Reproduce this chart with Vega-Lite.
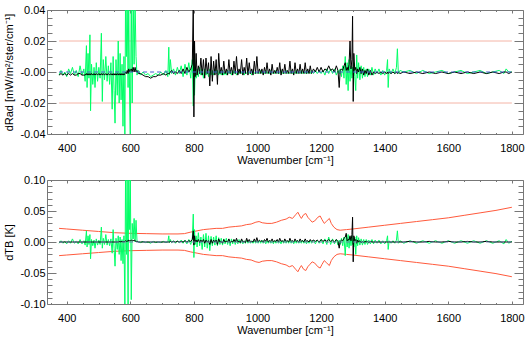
{
  "$schema": "https://vega.github.io/schema/vega-lite/v6.json",
  "padding": {"left": 3, "right": 2, "top": 3, "bottom": 2},
  "spacing": 7,
  "config": {
    "view": {"stroke": "#777", "strokeWidth": 1},
    "font": "Liberation Sans",
    "axis": {"domain": false, "grid": false, "tickColor": "#777", "labelColor": "#000", "titleColor": "#000", "labelFontSize": 11, "titleFontSize": 11, "titleFontWeight": "normal", "labelFlush": false, "labelOverlap": false, "labelBound": false, "labelFont": "Liberation Sans", "titleFont": "Liberation Sans"}
  },
  "datasets": {
    "top": [
      {"x":376,"g":-0.002,"k":-0.002},{"x":382,"g":0.001,"k":-0.001},{"x":388,"g":-0.002,"k":-0.002},{"x":394,"g":0.0,"k":-0.001},{"x":400,"g":-0.003,"k":-0.002},{"x":406,"g":0.002,"k":-0.001},{"x":412,"g":-0.001,"k":-0.002},{"x":418,"g":0.003,"k":-0.001},{"x":424,"g":-0.002,"k":-0.002},{"x":430,"g":0.001,"k":-0.002},{"x":436,"g":-0.003,"k":-0.001},{"x":442,"g":0.004,"k":-0.001},{"x":448,"g":-0.002,"k":-0.002},{"x":454,"g":0.002,"k":-0.002},{"x":458,"g":-0.006,"k":-0.002},{"x":462,"g":0.017,"k":-0.001},{"x":464,"g":-0.010,"k":-0.002},{"x":467,"g":0.012,"k":-0.001},{"x":470,"g":-0.004,"k":-0.002},{"x":473,"g":0.024,"k":-0.001},{"x":475,"g":-0.025,"k":-0.002},{"x":478,"g":0.005,"k":-0.001},{"x":482,"g":-0.008,"k":-0.002},{"x":486,"g":0.003,"k":-0.001},{"x":489,"g":-0.010,"k":-0.002},{"x":493,"g":0.006,"k":-0.001},{"x":497,"g":-0.006,"k":-0.002},{"x":501,"g":0.003,"k":-0.001},{"x":505,"g":-0.004,"k":-0.002},{"x":509,"g":0.025,"k":-0.001},{"x":512,"g":-0.019,"k":-0.002},{"x":515,"g":0.008,"k":-0.001},{"x":519,"g":-0.005,"k":-0.002},{"x":523,"g":0.010,"k":-0.001},{"x":527,"g":-0.006,"k":-0.002},{"x":531,"g":0.004,"k":-0.001},{"x":535,"g":-0.008,"k":-0.002},{"x":539,"g":0.006,"k":-0.001},{"x":543,"g":-0.024,"k":-0.002},{"x":546,"g":0.010,"k":-0.001},{"x":549,"g":-0.012,"k":-0.002},{"x":552,"g":-0.033,"k":-0.001},{"x":555,"g":0.008,"k":-0.002},{"x":559,"g":-0.015,"k":-0.001},{"x":562,"g":0.020,"k":-0.002},{"x":565,"g":-0.020,"k":-0.001},{"x":568,"g":0.012,"k":-0.002},{"x":571,"g":-0.018,"k":-0.001},{"x":574,"g":0.005,"k":-0.002},{"x":577,"g":-0.035,"k":-0.001},{"x":580,"g":0.010,"k":-0.002},{"x":583,"g":-0.045,"k":-0.001},{"x":585,"g":0.050,"k":0.0},{"x":588,"g":0.010,"k":-0.001},{"x":590,"g":0.050,"k":0.001},{"x":593,"g":-0.010,"k":-0.001},{"x":595,"g":0.045,"k":0.002},{"x":598,"g":-0.020,"k":0.0},{"x":600,"g":-0.045,"k":0.001},{"x":603,"g":0.050,"k":0.002},{"x":606,"g":-0.020,"k":0.0},{"x":609,"g":0.050,"k":0.003},{"x":612,"g":0.005,"k":0.0},{"x":615,"g":0.045,"k":0.003},{"x":618,"g":0.010,"k":0.0},{"x":621,"g":-0.002,"k":0.001},{"x":626,"g":0.001,"k":-0.001},
      {"x":632,"g":-0.002,"k":-0.001},{"x":640,"g":0.0,"k":-0.002},{"x":648,"g":-0.002,"k":-0.003},{"x":656,"g":-0.001,"k":-0.003},{"x":664,"g":-0.003,"k":-0.004},{"x":672,"g":-0.002,"k":-0.003},{"x":680,"g":-0.001,"k":-0.003},{"x":688,"g":-0.002,"k":-0.002},{"x":696,"g":0.0,"k":-0.002},{"x":704,"g":-0.002,"k":-0.001},{"x":712,"g":0.001,"k":-0.002},{"x":718,"g":-0.003,"k":-0.001},{"x":721,"g":0.016,"k":-0.001},{"x":723,"g":-0.002,"k":-0.001},{"x":726,"g":0.008,"k":0.0},{"x":730,"g":-0.001,"k":0.001},{"x":736,"g":0.002,"k":-0.001},{"x":742,"g":-0.002,"k":0.0},{"x":748,"g":0.003,"k":-0.001},{"x":754,"g":-0.001,"k":0.001},{"x":760,"g":0.004,"k":-0.001},{"x":766,"g":-0.003,"k":0.002},{"x":772,"g":0.005,"k":-0.001},{"x":778,"g":-0.002,"k":0.003},{"x":784,"g":0.006,"k":0.0},{"x":790,"g":-0.004,"k":0.002},{"x":795,"g":0.008,"k":0.005},{"x":798,"g":-0.022,"k":0.045},{"x":800,"g":0.010,"k":-0.029},{"x":802,"g":-0.015,"k":0.020},{"x":804,"g":0.003,"k":-0.003},{"x":807,"g":-0.004,"k":0.012},{"x":810,"g":0.002,"k":-0.002},{"x":814,"g":-0.003,"k":0.004},{"x":818,"g":0.003,"k":-0.001},{"x":822,"g":-0.002,"k":0.009},{"x":826,"g":0.002,"k":-0.002},{"x":830,"g":-0.004,"k":0.008},{"x":834,"g":0.002,"k":-0.004},{"x":838,"g":-0.002,"k":0.009},{"x":842,"g":0.001,"k":-0.001},{"x":846,"g":-0.003,"k":0.006},{"x":850,"g":0.002,"k":-0.009},{"x":854,"g":-0.002,"k":0.010},{"x":858,"g":0.001,"k":-0.006},{"x":862,"g":-0.002,"k":0.007},{"x":866,"g":0.002,"k":-0.002},{"x":870,"g":-0.001,"k":0.008},{"x":874,"g":0.001,"k":-0.008},{"x":878,"g":-0.002,"k":0.012},{"x":882,"g":0.001,"k":-0.001},{"x":886,"g":-0.002,"k":0.003},{"x":890,"g":0.001,"k":-0.002},{"x":894,"g":-0.002,"k":0.007},{"x":898,"g":0.0,"k":-0.001},{"x":902,"g":-0.002,"k":0.002},{"x":906,"g":0.001,"k":-0.002},{"x":910,"g":-0.001,"k":0.008},{"x":914,"g":0.001,"k":-0.001},{"x":918,"g":-0.002,"k":0.003},{"x":922,"g":0.001,"k":-0.002},{"x":926,"g":-0.001,"k":0.007},{"x":930,"g":0.001,"k":-0.001},{"x":934,"g":-0.002,"k":0.010},{"x":938,"g":0.0,"k":-0.002},{"x":942,"g":-0.001,"k":0.002},{"x":946,"g":0.001,"k":-0.001},{"x":950,"g":-0.001,"k":0.008},{"x":954,"g":0.001,"k":-0.002},{"x":958,"g":-0.002,"k":0.003},{"x":962,"g":0.0,"k":-0.001},{"x":966,"g":-0.001,"k":0.009},{"x":970,"g":0.001,"k":-0.002},{"x":974,"g":-0.001,"k":0.006},{"x":978,"g":0.0,"k":-0.001},{"x":982,"g":-0.002,"k":0.002},{"x":986,"g":0.001,"k":-0.002},{"x":990,"g":-0.001,"k":0.007},{"x":994,"g":0.0,"k":-0.001},{"x":998,"g":-0.001,"k":0.010},{"x":1002,"g":0.0,"k":-0.001},
      {"x":1006,"g":-0.001,"k":0.002},{"x":1010,"g":0.001,"k":-0.001},{"x":1014,"g":-0.001,"k":0.002},{"x":1018,"g":0.0,"k":-0.002},{"x":1022,"g":-0.001,"k":0.003},{"x":1026,"g":0.001,"k":-0.001},{"x":1030,"g":-0.001,"k":0.006},{"x":1034,"g":0.0,"k":-0.001},{"x":1038,"g":-0.001,"k":0.002},{"x":1042,"g":0.001,"k":-0.002},{"x":1046,"g":-0.001,"k":0.005},{"x":1050,"g":0.0,"k":-0.001},{"x":1054,"g":-0.001,"k":0.001},{"x":1058,"g":0.001,"k":-0.001},{"x":1062,"g":-0.001,"k":0.003},{"x":1066,"g":0.0,"k":-0.001},{"x":1070,"g":-0.001,"k":0.006},{"x":1074,"g":0.001,"k":-0.002},{"x":1078,"g":-0.001,"k":0.002},{"x":1082,"g":0.0,"k":-0.001},{"x":1086,"g":-0.001,"k":0.005},{"x":1090,"g":0.001,"k":-0.001},{"x":1094,"g":-0.001,"k":0.001},{"x":1098,"g":0.0,"k":-0.001},{"x":1102,"g":-0.001,"k":0.007},{"x":1106,"g":0.001,"k":-0.001},{"x":1110,"g":-0.001,"k":0.002},{"x":1114,"g":0.0,"k":-0.002},{"x":1118,"g":-0.001,"k":0.006},{"x":1122,"g":0.001,"k":-0.001},{"x":1126,"g":-0.001,"k":0.002},{"x":1130,"g":0.0,"k":-0.001},{"x":1134,"g":-0.001,"k":0.005},{"x":1138,"g":0.001,"k":-0.001},{"x":1142,"g":-0.001,"k":0.002},{"x":1146,"g":0.0,"k":-0.001},{"x":1150,"g":-0.001,"k":0.006},{"x":1154,"g":0.001,"k":-0.001},{"x":1158,"g":-0.001,"k":0.002},{"x":1162,"g":0.0,"k":-0.001},{"x":1166,"g":-0.001,"k":0.004},{"x":1170,"g":0.001,"k":-0.001},{"x":1176,"g":-0.001,"k":0.002},{"x":1182,"g":0.001,"k":0.0},{"x":1188,"g":-0.001,"k":0.003},{"x":1194,"g":0.001,"k":0.0},{"x":1200,"g":-0.001,"k":0.003},{"x":1206,"g":0.001,"k":0.0},{"x":1212,"g":-0.002,"k":0.002},{"x":1218,"g":0.002,"k":0.001},{"x":1224,"g":-0.001,"k":0.004},{"x":1230,"g":0.002,"k":0.001},{"x":1236,"g":-0.001,"k":0.002},{"x":1242,"g":0.002,"k":0.0},{"x":1248,"g":-0.002,"k":0.004},{"x":1253,"g":0.001,"k":0.001},{"x":1257,"g":-0.001,"k":-0.010},{"x":1260,"g":0.002,"k":0.001},{"x":1264,"g":-0.003,"k":0.002},{"x":1268,"g":0.004,"k":0.001},{"x":1272,"g":-0.004,"k":0.004},{"x":1276,"g":0.010,"k":0.006},{"x":1279,"g":-0.008,"k":0.001},{"x":1282,"g":0.006,"k":0.003},{"x":1285,"g":-0.012,"k":0.001},{"x":1288,"g":0.008,"k":0.005},{"x":1291,"g":-0.006,"k":0.020},{"x":1294,"g":0.004,"k":0.002},{"x":1297,"g":-0.004,"k":0.008},{"x":1299,"g":0.003,"k":0.036},{"x":1301,"g":-0.002,"k":-0.019},{"x":1303,"g":0.006,"k":0.012},{"x":1306,"g":-0.003,"k":0.001},{"x":1309,"g":-0.012,"k":0.003},{"x":1312,"g":0.011,"k":-0.001},{"x":1315,"g":-0.004,"k":0.002},{"x":1318,"g":0.006,"k":0.0},{"x":1322,"g":-0.005,"k":0.003},{"x":1326,"g":0.004,"k":-0.001},{"x":1330,"g":-0.004,"k":0.002},{"x":1334,"g":0.003,"k":-0.002},{"x":1338,"g":-0.003,"k":0.001},{"x":1342,"g":0.002,"k":-0.001},{"x":1346,"g":-0.003,"k":0.002},{"x":1350,"g":0.002,"k":-0.002},{"x":1355,"g":-0.002,"k":0.001},{"x":1360,"g":0.003,"k":-0.002},{"x":1365,"g":-0.002,"k":0.0},{"x":1370,"g":0.002,"k":-0.001},{"x":1376,"g":-0.001,"k":0.0},{"x":1382,"g":0.002,"k":-0.001},{"x":1388,"g":-0.002,"k":0.0},{"x":1394,"g":0.001,"k":-0.001},{"x":1400,"g":-0.002,"k":0.0},{"x":1406,"g":0.001,"k":-0.001},{"x":1409,"g":0.008,"k":0.0},{"x":1411,"g":-0.010,"k":-0.001},{"x":1414,"g":0.002,"k":0.0},{"x":1420,"g":-0.001,"k":-0.001},{"x":1426,"g":0.002,"k":0.0},{"x":1432,"g":-0.001,"k":-0.001},{"x":1437,"g":0.003,"k":0.0},{"x":1440,"g":0.015,"k":-0.001},{"x":1443,"g":-0.001,"k":0.0},{"x":1448,"g":0.001,"k":-0.001},{"x":1460,"g":0.0,"k":0.0},{"x":1480,"g":0.001,"k":-0.001},{"x":1500,"g":-0.001,"k":0.0},{"x":1520,"g":0.001,"k":-0.001},{"x":1540,"g":-0.001,"k":0.0},{"x":1560,"g":0.0,"k":-0.001},{"x":1580,"g":0.001,"k":0.0},{"x":1600,"g":-0.001,"k":-0.001},{"x":1620,"g":0.0,"k":0.0},{"x":1640,"g":0.001,"k":-0.001},{"x":1660,"g":-0.001,"k":0.0},{"x":1680,"g":0.0,"k":-0.001},{"x":1700,"g":0.001,"k":0.0},{"x":1720,"g":-0.001,"k":-0.001},{"x":1740,"g":0.0,"k":0.0},{"x":1760,"g":0.001,"k":-0.001},{"x":1775,"g":-0.001,"k":0.0},{"x":1782,"g":0.002,"k":0.0},{"x":1790,"g":0.0,"k":-0.001},{"x":1800,"g":0.0,"k":0.0}
    ],
    "bot": [
      {"x":376,"g":-0.002,"k":0.0},{"x":382,"g":0.002,"k":0.0},{"x":388,"g":-0.002,"k":0.0},{"x":394,"g":0.001,"k":0.0},{"x":400,"g":-0.003,"k":0.0},{"x":406,"g":0.002,"k":0.0},{"x":412,"g":-0.002,"k":0.0},{"x":418,"g":0.005,"k":0.0},{"x":424,"g":-0.002,"k":0.0},{"x":430,"g":0.001,"k":0.0},{"x":436,"g":-0.003,"k":0.0},{"x":442,"g":0.004,"k":0.0},{"x":448,"g":-0.003,"k":0.0},{"x":454,"g":0.002,"k":0.0},{"x":458,"g":-0.005,"k":0.0},{"x":462,"g":0.018,"k":0.0},{"x":464,"g":-0.008,"k":0.0},{"x":467,"g":0.010,"k":0.0},{"x":470,"g":-0.004,"k":0.0},{"x":473,"g":0.012,"k":0.0},{"x":475,"g":-0.027,"k":0.0},{"x":478,"g":0.004,"k":0.0},{"x":482,"g":-0.006,"k":0.0},{"x":486,"g":0.003,"k":0.0},{"x":489,"g":-0.010,"k":0.0},{"x":493,"g":0.005,"k":0.0},{"x":497,"g":-0.005,"k":0.0},{"x":501,"g":0.003,"k":0.0},{"x":505,"g":-0.004,"k":0.0},{"x":509,"g":0.024,"k":0.0},{"x":512,"g":-0.010,"k":0.0},{"x":515,"g":0.006,"k":0.0},{"x":519,"g":-0.004,"k":0.0},{"x":523,"g":0.012,"k":0.0},{"x":527,"g":-0.005,"k":0.0},{"x":531,"g":0.004,"k":0.0},{"x":535,"g":-0.006,"k":0.0},{"x":539,"g":0.005,"k":0.0},{"x":543,"g":-0.018,"k":0.0},{"x":546,"g":0.020,"k":0.0},{"x":549,"g":-0.010,"k":0.0},{"x":552,"g":-0.039,"k":0.0},{"x":555,"g":0.006,"k":0.0},{"x":559,"g":-0.012,"k":0.0},{"x":562,"g":0.010,"k":0.0},{"x":565,"g":-0.020,"k":0.001},{"x":568,"g":0.008,"k":0.0},{"x":571,"g":-0.030,"k":0.001},{"x":574,"g":0.004,"k":0.0},{"x":577,"g":-0.035,"k":0.001},{"x":580,"g":0.010,"k":0.0},{"x":583,"g":-0.110,"k":0.001},{"x":585,"g":0.110,"k":0.002},{"x":588,"g":-0.020,"k":0.001},{"x":590,"g":0.110,"k":0.002},{"x":593,"g":-0.100,"k":0.001},{"x":595,"g":0.110,"k":0.003},{"x":598,"g":0.020,"k":0.002},{"x":600,"g":0.110,"k":0.002},{"x":603,"g":-0.093,"k":0.003},{"x":606,"g":0.030,"k":0.002},{"x":609,"g":0.005,"k":0.002},{"x":612,"g":0.038,"k":0.003},{"x":615,"g":0.0,"k":0.002},{"x":618,"g":0.035,"k":0.001},{"x":621,"g":0.002,"k":0.001},{"x":626,"g":0.0,"k":0.0},
      {"x":632,"g":-0.001,"k":0.0},{"x":640,"g":0.001,"k":0.0},{"x":648,"g":-0.001,"k":0.0},{"x":656,"g":0.0,"k":0.0},{"x":664,"g":-0.002,"k":0.0},{"x":672,"g":0.001,"k":0.0},{"x":680,"g":-0.001,"k":0.0},{"x":688,"g":0.0,"k":0.0},{"x":696,"g":-0.001,"k":0.0},{"x":704,"g":0.001,"k":0.0},{"x":712,"g":-0.001,"k":0.0},{"x":718,"g":0.0,"k":0.0},{"x":721,"g":0.010,"k":0.0},{"x":723,"g":-0.001,"k":0.0},{"x":726,"g":0.004,"k":0.001},{"x":730,"g":-0.001,"k":0.0},{"x":736,"g":0.002,"k":0.001},{"x":742,"g":-0.002,"k":0.0},{"x":748,"g":0.002,"k":0.001},{"x":754,"g":-0.001,"k":0.0},{"x":760,"g":0.003,"k":0.001},{"x":766,"g":-0.002,"k":0.0},{"x":772,"g":0.003,"k":0.002},{"x":778,"g":-0.003,"k":0.0},{"x":784,"g":0.004,"k":0.002},{"x":790,"g":-0.004,"k":0.001},{"x":795,"g":0.005,"k":0.004},{"x":798,"g":0.045,"k":0.018},{"x":800,"g":-0.025,"k":-0.005},{"x":802,"g":0.020,"k":0.010},{"x":804,"g":-0.004,"k":0.0},{"x":807,"g":0.010,"k":0.003},{"x":810,"g":-0.008,"k":0.0},{"x":814,"g":0.015,"k":0.004},{"x":818,"g":-0.006,"k":-0.001},{"x":822,"g":0.008,"k":0.003},{"x":826,"g":-0.012,"k":0.0},{"x":830,"g":0.012,"k":0.004},{"x":834,"g":-0.008,"k":-0.002},{"x":838,"g":0.014,"k":0.003},{"x":842,"g":-0.010,"k":0.0},{"x":846,"g":0.010,"k":0.002},{"x":850,"g":-0.014,"k":-0.004},{"x":854,"g":0.009,"k":0.004},{"x":858,"g":-0.006,"k":-0.002},{"x":862,"g":0.008,"k":0.003},{"x":866,"g":-0.005,"k":0.0},{"x":870,"g":0.010,"k":0.003},{"x":874,"g":-0.006,"k":-0.004},{"x":878,"g":0.007,"k":0.005},{"x":882,"g":-0.004,"k":0.0},{"x":886,"g":0.006,"k":0.001},{"x":890,"g":-0.005,"k":-0.002},{"x":894,"g":0.005,"k":0.004},{"x":898,"g":-0.003,"k":0.0},{"x":902,"g":0.006,"k":0.001},{"x":906,"g":-0.004,"k":0.0},{"x":910,"g":0.004,"k":0.005},{"x":914,"g":-0.006,"k":-0.001},{"x":918,"g":0.005,"k":0.001},{"x":922,"g":-0.003,"k":0.0},{"x":926,"g":0.004,"k":0.004},{"x":930,"g":-0.004,"k":0.0},{"x":934,"g":0.003,"k":0.006},{"x":938,"g":-0.003,"k":0.0},{"x":942,"g":0.004,"k":0.001},{"x":946,"g":-0.002,"k":-0.001},{"x":950,"g":0.003,"k":0.005},{"x":954,"g":-0.003,"k":0.0},{"x":958,"g":0.002,"k":0.001},{"x":962,"g":-0.002,"k":-0.001},{"x":966,"g":0.003,"k":0.006},{"x":970,"g":-0.002,"k":0.0},{"x":974,"g":0.002,"k":0.004},{"x":978,"g":-0.002,"k":0.0},{"x":982,"g":0.002,"k":0.001},{"x":986,"g":-0.002,"k":0.0},{"x":990,"g":0.002,"k":0.005},{"x":994,"g":-0.002,"k":0.0},{"x":998,"g":0.002,"k":0.007},{"x":1002,"g":-0.002,"k":0.0},
      {"x":1006,"g":0.002,"k":0.003},{"x":1010,"g":-0.002,"k":0.001},{"x":1014,"g":0.003,"k":0.002},{"x":1018,"g":-0.002,"k":0.0},{"x":1022,"g":0.002,"k":0.004},{"x":1026,"g":-0.003,"k":0.001},{"x":1030,"g":0.002,"k":0.006},{"x":1034,"g":-0.002,"k":0.0},{"x":1038,"g":0.003,"k":0.002},{"x":1042,"g":-0.002,"k":0.001},{"x":1046,"g":0.002,"k":0.005},{"x":1050,"g":-0.003,"k":0.0},{"x":1054,"g":0.002,"k":0.002},{"x":1058,"g":-0.002,"k":0.001},{"x":1062,"g":0.003,"k":0.004},{"x":1066,"g":-0.002,"k":0.0},{"x":1070,"g":0.002,"k":0.006},{"x":1074,"g":-0.003,"k":0.001},{"x":1078,"g":0.002,"k":0.002},{"x":1082,"g":-0.002,"k":0.0},{"x":1086,"g":0.003,"k":0.005},{"x":1090,"g":-0.002,"k":0.001},{"x":1094,"g":0.002,"k":0.002},{"x":1098,"g":-0.002,"k":0.0},{"x":1102,"g":0.003,"k":0.006},{"x":1106,"g":-0.002,"k":0.001},{"x":1110,"g":0.002,"k":0.002},{"x":1114,"g":-0.003,"k":0.0},{"x":1118,"g":0.002,"k":0.005},{"x":1122,"g":-0.002,"k":0.001},{"x":1126,"g":0.003,"k":0.002},{"x":1130,"g":-0.002,"k":0.0},{"x":1134,"g":0.002,"k":0.005},{"x":1138,"g":-0.002,"k":0.001},{"x":1142,"g":0.003,"k":0.002},{"x":1146,"g":-0.002,"k":0.0},{"x":1150,"g":0.002,"k":0.005},{"x":1154,"g":-0.003,"k":0.001},{"x":1158,"g":0.002,"k":0.002},{"x":1162,"g":-0.002,"k":0.0},{"x":1166,"g":0.003,"k":0.004},{"x":1170,"g":-0.002,"k":0.001},{"x":1176,"g":0.003,"k":0.003},{"x":1182,"g":-0.003,"k":0.001},{"x":1188,"g":0.003,"k":0.003},{"x":1194,"g":-0.002,"k":0.0},{"x":1200,"g":0.004,"k":0.004},{"x":1206,"g":-0.003,"k":0.001},{"x":1212,"g":0.005,"k":0.003},{"x":1218,"g":-0.004,"k":0.001},{"x":1224,"g":0.008,"k":0.004},{"x":1230,"g":-0.004,"k":0.001},{"x":1236,"g":0.005,"k":0.003},{"x":1242,"g":-0.003,"k":0.0},{"x":1248,"g":0.004,"k":0.004},{"x":1253,"g":-0.005,"k":0.001},{"x":1257,"g":0.003,"k":-0.010},{"x":1260,"g":-0.004,"k":0.001},{"x":1264,"g":0.006,"k":0.003},{"x":1268,"g":-0.006,"k":0.002},{"x":1272,"g":0.008,"k":0.006},{"x":1276,"g":-0.022,"k":0.008},{"x":1279,"g":0.010,"k":0.014},{"x":1282,"g":-0.008,"k":0.002},{"x":1285,"g":0.012,"k":0.004},{"x":1288,"g":-0.010,"k":0.003},{"x":1291,"g":0.008,"k":0.010},{"x":1294,"g":-0.006,"k":0.002},{"x":1297,"g":0.010,"k":0.012},{"x":1299,"g":-0.004,"k":0.040},{"x":1301,"g":0.006,"k":-0.032},{"x":1303,"g":-0.008,"k":0.010},{"x":1306,"g":0.008,"k":0.002},{"x":1309,"g":-0.020,"k":0.004},{"x":1312,"g":0.010,"k":-0.002},{"x":1315,"g":-0.006,"k":0.003},{"x":1318,"g":0.007,"k":0.0},{"x":1322,"g":-0.005,"k":0.002},{"x":1326,"g":0.005,"k":-0.001},{"x":1330,"g":-0.005,"k":0.001},{"x":1334,"g":0.004,"k":-0.001},{"x":1338,"g":-0.004,"k":0.001},{"x":1342,"g":0.004,"k":0.0},{"x":1346,"g":-0.004,"k":0.001},{"x":1350,"g":0.003,"k":-0.001},{"x":1355,"g":-0.003,"k":0.001},{"x":1360,"g":0.004,"k":0.0},{"x":1365,"g":-0.003,"k":0.0},{"x":1370,"g":0.003,"k":0.0},{"x":1376,"g":-0.002,"k":0.0},{"x":1382,"g":0.003,"k":0.0},{"x":1388,"g":-0.003,"k":0.0},{"x":1394,"g":0.002,"k":0.0},{"x":1400,"g":-0.003,"k":0.0},{"x":1406,"g":0.002,"k":0.0},{"x":1409,"g":0.010,"k":0.0},{"x":1411,"g":-0.012,"k":0.0},{"x":1414,"g":0.002,"k":0.0},{"x":1420,"g":-0.002,"k":0.0},{"x":1426,"g":0.002,"k":0.0},{"x":1432,"g":-0.002,"k":0.0},{"x":1437,"g":0.003,"k":0.0},{"x":1440,"g":0.018,"k":0.0},{"x":1443,"g":-0.002,"k":0.0},{"x":1448,"g":0.002,"k":0.0},{"x":1460,"g":-0.002,"k":0.0},{"x":1480,"g":0.002,"k":0.001},{"x":1500,"g":-0.002,"k":0.0},{"x":1520,"g":0.002,"k":0.0},{"x":1540,"g":-0.002,"k":0.001},{"x":1560,"g":0.002,"k":0.0},{"x":1580,"g":-0.002,"k":0.0},{"x":1600,"g":0.002,"k":0.001},{"x":1620,"g":-0.002,"k":0.0},{"x":1640,"g":0.002,"k":0.0},{"x":1660,"g":-0.002,"k":0.001},{"x":1680,"g":0.002,"k":0.0},{"x":1700,"g":-0.002,"k":0.0},{"x":1720,"g":0.002,"k":0.001},{"x":1740,"g":-0.002,"k":0.0},{"x":1760,"g":0.002,"k":0.0},{"x":1775,"g":-0.003,"k":0.0},{"x":1782,"g":0.004,"k":0.0},{"x":1790,"g":-0.002,"k":0.0},{"x":1800,"g":0.001,"k":0.0}
    ],
    "env": [
      {"x":376,"up":0.022,"lo":-0.022},{"x":400,"up":0.021,"lo":-0.021},{"x":450,"up":0.019,"lo":-0.019},{"x":500,"up":0.017,"lo":-0.017},{"x":550,"up":0.015,"lo":-0.015},{"x":600,"up":0.014,"lo":-0.014},{"x":650,"up":0.0135,"lo":-0.0135},{"x":700,"up":0.013,"lo":-0.013},{"x":750,"up":0.013,"lo":-0.013},{"x":770,"up":0.0135,"lo":-0.0135},{"x":790,"up":0.016,"lo":-0.016},{"x":800,"up":0.017,"lo":-0.017},{"x":810,"up":0.018,"lo":-0.018},{"x":830,"up":0.020,"lo":-0.020},{"x":850,"up":0.021,"lo":-0.021},{"x":870,"up":0.022,"lo":-0.022},{"x":890,"up":0.022,"lo":-0.022},{"x":910,"up":0.024,"lo":-0.024},{"x":930,"up":0.025,"lo":-0.025},{"x":950,"up":0.026,"lo":-0.026},{"x":965,"up":0.028,"lo":-0.028},{"x":980,"up":0.029,"lo":-0.029},{"x":995,"up":0.032,"lo":-0.032},{"x":1005,"up":0.033,"lo":-0.033},{"x":1015,"up":0.031,"lo":-0.031},{"x":1030,"up":0.030,"lo":-0.030},{"x":1045,"up":0.030,"lo":-0.030},{"x":1060,"up":0.032,"lo":-0.032},{"x":1075,"up":0.035,"lo":-0.035},{"x":1090,"up":0.037,"lo":-0.037},{"x":1100,"up":0.040,"lo":-0.040},{"x":1110,"up":0.038,"lo":-0.038},{"x":1120,"up":0.044,"lo":-0.044},{"x":1127,"up":0.048,"lo":-0.048},{"x":1133,"up":0.042,"lo":-0.042},{"x":1138,"up":0.038,"lo":-0.038},{"x":1145,"up":0.044,"lo":-0.044},{"x":1152,"up":0.046,"lo":-0.046},{"x":1158,"up":0.040,"lo":-0.040},{"x":1165,"up":0.036,"lo":-0.036},{"x":1172,"up":0.032,"lo":-0.032},{"x":1180,"up":0.034,"lo":-0.034},{"x":1190,"up":0.040,"lo":-0.040},{"x":1197,"up":0.042,"lo":-0.042},{"x":1203,"up":0.036,"lo":-0.036},{"x":1210,"up":0.030,"lo":-0.030},{"x":1218,"up":0.034,"lo":-0.034},{"x":1226,"up":0.038,"lo":-0.038},{"x":1232,"up":0.030,"lo":-0.030},{"x":1240,"up":0.024,"lo":-0.024},{"x":1250,"up":0.020,"lo":-0.020},{"x":1260,"up":0.019,"lo":-0.019},{"x":1280,"up":0.020,"lo":-0.020},{"x":1300,"up":0.021,"lo":-0.021},{"x":1350,"up":0.024,"lo":-0.024},{"x":1400,"up":0.027,"lo":-0.027},{"x":1450,"up":0.030,"lo":-0.030},{"x":1500,"up":0.033,"lo":-0.033},{"x":1550,"up":0.036,"lo":-0.036},{"x":1600,"up":0.039,"lo":-0.039},{"x":1650,"up":0.043,"lo":-0.043},{"x":1700,"up":0.047,"lo":-0.047},{"x":1750,"up":0.051,"lo":-0.051},{"x":1800,"up":0.056,"lo":-0.056}
    ],
    "grid": [{"x":376,"x2":1800,"y":0.02},{"x":376,"x2":1800,"y":-0.02}],
    "zero": [{"x":376,"x2":1800,"y":0}]
  },
  "vconcat": [
    {
      "width": 476, "height": 124,
      "resolve": {"axis": {"x": "independent", "y": "independent"}},
      "layer": [
        {
          "data": {"name": "grid"},
          "mark": {"type": "rule", "color": "#f4b4a6", "strokeWidth": 1},
          "encoding": {
            "x": {"field": "x", "type": "quantitative", "scale": {"domain": [338, 1835], "nice": false, "zero": false},
                  "axis": {"orient": "bottom", "values": [400,600,800,1000,1200,1400,1600,1800], "format": "d", "tickSize": -3, "labelPadding": 11, "title": "Wavenumber [cm⁻¹]", "titlePadding": 1}},
            "x2": {"field": "x2"},
            "y": {"field": "y", "type": "quantitative", "scale": {"domain": [-0.04, 0.04], "nice": false, "zero": false},
                  "axis": {"orient": "left", "values": [-0.04,-0.02,0,0.02,0.04], "tickSize": -9, "labelPadding": 11, "title": "dRad [mW/m²/ster/cm⁻¹]", "titlePadding": 5,
                           "labelExpr": "datum.value == 0 ? '-0.00' : (datum.value < 0 ? '-' + format(-datum.value, '.2f') : format(datum.value, '.2f'))"}}
          }
        },
        {
          "data": {"name": "top"},
          "mark": {"type": "line", "color": "#00ff66", "strokeWidth": 1, "clip": true},
          "encoding": {
            "x": {"field": "x", "type": "quantitative", "scale": {"domain": [338, 1835], "nice": false, "zero": false},
                  "axis": {"orient": "top", "values": [400,600,800,1000,1200,1400,1600,1800], "tickSize": -3, "labels": false, "title": null}},
            "y": {"field": "g", "type": "quantitative", "scale": {"domain": [-0.04, 0.04], "nice": false, "zero": false},
                  "axis": {"orient": "right", "values": [-0.04,-0.02,0,0.02,0.04], "tickSize": -9, "labels": false, "title": null}}
          }
        },
        {
          "data": {"name": "top"},
          "mark": {"type": "line", "color": "#000000", "strokeWidth": 1, "clip": true},
          "encoding": {
            "x": {"field": "x", "type": "quantitative", "scale": {"domain": [338, 1835], "nice": false, "zero": false},
                  "axis": {"orient": "bottom", "values": [350,450,500,550,650,700,750,850,900,950,1050,1100,1150,1250,1300,1350,1450,1500,1550,1650,1700,1750], "tickSize": -1.5, "labels": false, "title": null}},
            "y": {"field": "k", "type": "quantitative", "scale": {"domain": [-0.04, 0.04], "nice": false, "zero": false},
                  "axis": {"orient": "left", "values": [-0.035,-0.03,-0.025,-0.015,-0.01,-0.005,0.005,0.01,0.015,0.025,0.03,0.035], "tickSize": -5, "labels": false, "title": null}}
          }
        },
        {
          "data": {"name": "zero"},
          "mark": {"type": "rule", "color": "#4a5fd0", "strokeWidth": 1, "strokeDash": [4, 3]},
          "encoding": {
            "x": {"field": "x", "type": "quantitative", "scale": {"domain": [338, 1835], "nice": false, "zero": false},
                  "axis": {"orient": "top", "values": [350,450,500,550,650,700,750,850,900,950,1050,1100,1150,1250,1300,1350,1450,1500,1550,1650,1700,1750], "tickSize": -1.5, "labels": false, "title": null}},
            "x2": {"field": "x2"},
            "y": {"field": "y", "type": "quantitative", "scale": {"domain": [-0.04, 0.04], "nice": false, "zero": false},
                  "axis": {"orient": "right", "values": [-0.035,-0.03,-0.025,-0.015,-0.01,-0.005,0.005,0.01,0.015,0.025,0.03,0.035], "tickSize": -5, "labels": false, "title": null}}
          }
        }
      ]
    },
    {
      "width": 476, "height": 124,
      "resolve": {"axis": {"x": "independent", "y": "independent"}},
      "layer": [
        {
          "data": {"name": "env"},
          "mark": {"type": "line", "color": "#ff5a3c", "strokeWidth": 1, "clip": true},
          "encoding": {
            "x": {"field": "x", "type": "quantitative", "scale": {"domain": [338, 1835], "nice": false, "zero": false},
                  "axis": {"orient": "bottom", "values": [400,600,800,1000,1200,1400,1600,1800], "format": "d", "tickSize": -3, "labelPadding": 11, "title": "Wavenumber [cm⁻¹]", "titlePadding": 1}},
            "y": {"field": "up", "type": "quantitative", "scale": {"domain": [-0.1, 0.1], "nice": false, "zero": false},
                  "axis": {"orient": "left", "values": [-0.1,-0.05,0,0.05,0.1], "tickSize": -9, "labelPadding": 11, "title": "dTB [K]", "titlePadding": 5,
                           "labelExpr": "datum.value < -0.0001 ? '-' + format(-datum.value, '.2f') : format(abs(datum.value), '.2f')"}}
          }
        },
        {
          "data": {"name": "env"},
          "mark": {"type": "line", "color": "#ff5a3c", "strokeWidth": 1, "clip": true},
          "encoding": {
            "x": {"field": "x", "type": "quantitative", "scale": {"domain": [338, 1835], "nice": false, "zero": false},
                  "axis": {"orient": "top", "values": [400,600,800,1000,1200,1400,1600,1800], "tickSize": -3, "labels": false, "title": null}},
            "y": {"field": "lo", "type": "quantitative", "scale": {"domain": [-0.1, 0.1], "nice": false, "zero": false},
                  "axis": {"orient": "right", "values": [-0.1,-0.05,0,0.05,0.1], "tickSize": -9, "labels": false, "title": null}}
          }
        },
        {
          "data": {"name": "bot"},
          "mark": {"type": "line", "color": "#00ff66", "strokeWidth": 1, "clip": true},
          "encoding": {
            "x": {"field": "x", "type": "quantitative", "scale": {"domain": [338, 1835], "nice": false, "zero": false},
                  "axis": {"orient": "bottom", "values": [350,450,500,550,650,700,750,850,900,950,1050,1100,1150,1250,1300,1350,1450,1500,1550,1650,1700,1750], "tickSize": -1.5, "labels": false, "title": null}},
            "y": {"field": "g", "type": "quantitative", "scale": {"domain": [-0.1, 0.1], "nice": false, "zero": false},
                  "axis": {"orient": "left", "values": [-0.09,-0.08,-0.07,-0.06,-0.04,-0.03,-0.02,-0.01,0.01,0.02,0.03,0.04,0.06,0.07,0.08,0.09], "tickSize": -5, "labels": false, "title": null}}
          }
        },
        {
          "data": {"name": "bot"},
          "mark": {"type": "line", "color": "#000000", "strokeWidth": 1, "clip": true},
          "encoding": {
            "x": {"field": "x", "type": "quantitative", "scale": {"domain": [338, 1835], "nice": false, "zero": false},
                  "axis": {"orient": "top", "values": [350,450,500,550,650,700,750,850,900,950,1050,1100,1150,1250,1300,1350,1450,1500,1550,1650,1700,1750], "tickSize": -1.5, "labels": false, "title": null}},
            "y": {"field": "k", "type": "quantitative", "scale": {"domain": [-0.1, 0.1], "nice": false, "zero": false},
                  "axis": {"orient": "right", "values": [-0.09,-0.08,-0.07,-0.06,-0.04,-0.03,-0.02,-0.01,0.01,0.02,0.03,0.04,0.06,0.07,0.08,0.09], "tickSize": -5, "labels": false, "title": null}}
          }
        },
        {
          "data": {"name": "zero"},
          "mark": {"type": "rule", "color": "#7080b0", "strokeWidth": 1, "strokeDash": [4, 3]},
          "encoding": {
            "x": {"field": "x", "type": "quantitative", "scale": {"domain": [338, 1835], "nice": false, "zero": false}, "axis": null},
            "x2": {"field": "x2"},
            "y": {"field": "y", "type": "quantitative", "scale": {"domain": [-0.1, 0.1], "nice": false, "zero": false}, "axis": null}
          }
        }
      ]
    }
  ]
}
